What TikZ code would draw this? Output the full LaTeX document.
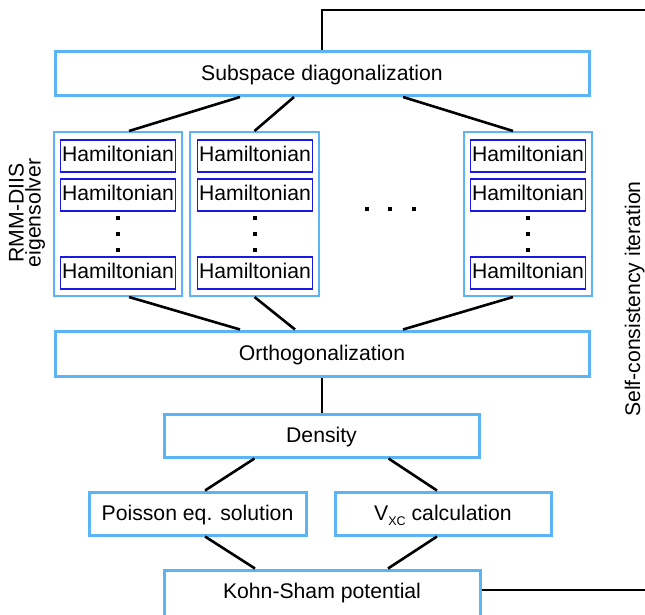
\documentclass[tikz,border=0pt]{standalone}
\usepackage{fontspec}
\setmainfont{Liberation Sans}
\definecolor{lblue}{RGB}{90,180,245}
\definecolor{hblue}{RGB}{25,25,230}
\begin{document}
\begin{tikzpicture}[x=1pt,y=-1pt,
  mainbox/.style={draw=lblue,line width=3pt,inner sep=0pt,fill=white,
    text height=19pt,text depth=4.5pt},
  grpbox/.style={draw=lblue,line width=2pt,inner sep=0pt,minimum width=128.5pt,minimum height=164pt},
  hambox/.style={draw=hblue,line width=1.5pt,inner sep=0pt,minimum width=115pt,minimum height=32pt,
    text height=16pt,text depth=4.5pt},
  conn/.style={line width=2.6pt,black},
  dotsq/.style={fill=black},
  every node/.style={font=\fontsize{21.2}{17}\selectfont}
]
\useasboundingbox (0,0) rectangle (645,614);
\clip (0,0) rectangle (645,614);

% main boxes
\node[mainbox,minimum width=534pt,minimum height=44pt] (sub) at (322,73.5) {Subspace diagonalization};
\node[mainbox,minimum width=534pt,minimum height=45pt] (orth) at (322,353.5) {Orthogonalization};
\node[mainbox,minimum width=315pt,minimum height=43pt] (dens) at (321.5,435.5) {Density};
\node[mainbox,minimum width=217pt,minimum height=43pt] (pois) at (197.5,513.5) {Poisson eq. solution};
\node[mainbox,minimum width=216pt,minimum height=43pt] (vxc) at (443,513.5)
  {V\raisebox{-5pt}{\fontsize{12.5}{12.5}\selectfont XC} calculation};
\node[mainbox,minimum width=316pt,minimum height=48pt,text depth=10.5pt] (ks) at (322,594) {Kohn-Sham potential};

% groups
\node[grpbox] (g1) at (118,214) {};
\node[grpbox] (g2) at (254.5,214) {};
\node[grpbox] (g3) at (528,214) {};

\foreach \g/\x in {1/118,2/255,3/528}{
  \node[hambox] (h\g a) at (\x,156) {Hamiltonian};
  \node[hambox] (h\g b) at (\x,195) {Hamiltonian};
  \node[hambox] (h\g c) at (\x,273) {Hamiltonian};
  \foreach \y in {218,234,250}{
    \fill[dotsq] (\x-1.75,\y-1.75) rectangle (\x+1.75,\y+1.75);
  }
}
\foreach \x in {367,390,414}{
  \fill[dotsq] (\x-2,209-2) rectangle (\x+2,209+2);
}

% side labels
\node[rotate=90,align=center] (rmm) at (27,213) {RMM-DIIS\\eigensolver};
\node[rotate=90,anchor=base] (sci) at (640,299) {Self-consistency iteration};

% connectors
\coordinate (topR) at (645,10);
\coordinate (botR) at (645,590);
\draw[conn] (sub.north) |- (topR);
\draw[conn] ([xshift=-82pt]sub.south) -- ([xshift=11pt]g1.north);
\draw[conn] ([xshift=-28pt]sub.south) -- (g2.north);
\draw[conn] ([xshift=81pt]sub.south) -- ([xshift=-15pt]g3.north);
\draw[conn] ([xshift=11pt]g1.south) -- ([xshift=-82pt]orth.north);
\draw[conn] (g2.south) -- ([xshift=-27pt]orth.north);
\draw[conn] ([xshift=-15pt]g3.south) -- ([xshift=81pt]orth.north);
\draw[conn] (orth.south) -- (orth.south |- dens.north);
\draw[conn] ([xshift=-67pt]dens.south) -- ([xshift=7.5pt]pois.north);
\draw[conn] ([xshift=67pt]dens.south) -- ([xshift=-6pt]vxc.north);
\draw[conn] ([xshift=7.5pt]pois.south) -- ([xshift=-67pt]ks.north);
\draw[conn] ([xshift=-6pt]vxc.south) -- ([xshift=66pt]ks.north);
\draw[conn] (ks.east |- botR) -- (botR);
\end{tikzpicture}
\end{document}
